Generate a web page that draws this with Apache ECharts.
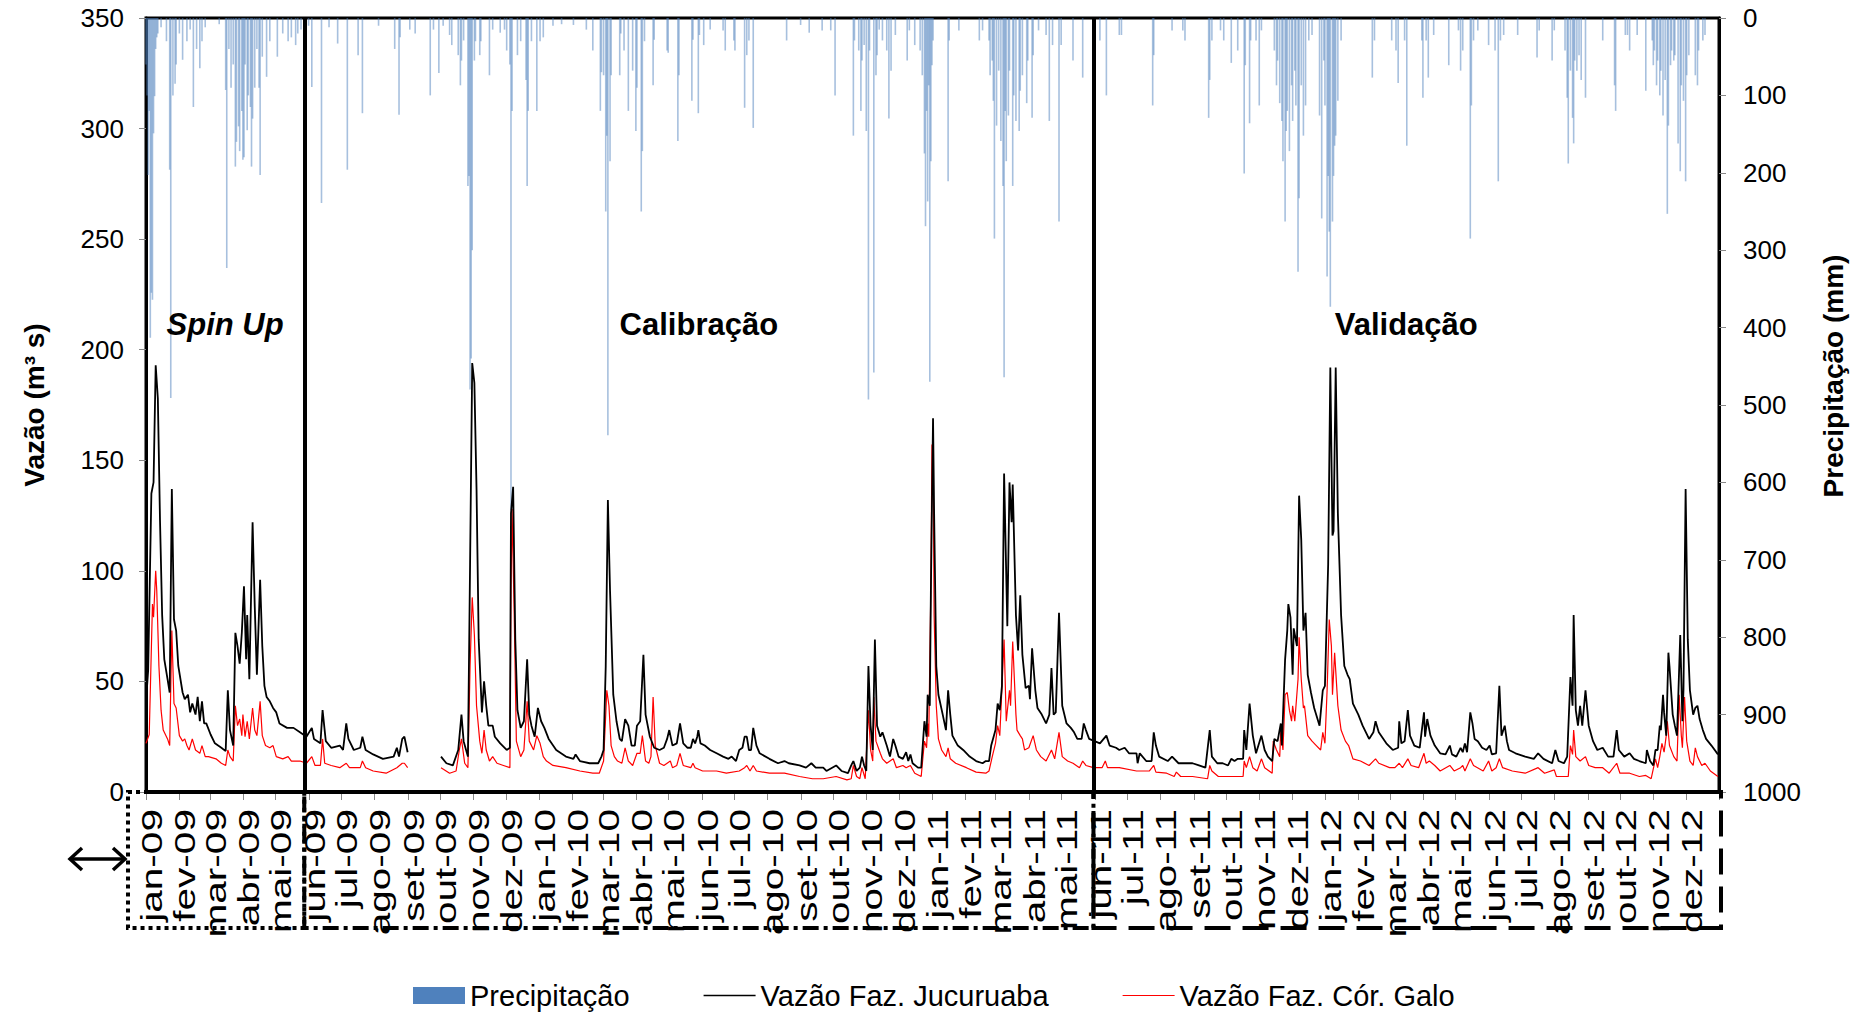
<!DOCTYPE html>
<html>
<head>
<meta charset="utf-8">
<script src="https://cdn.jsdelivr.net/npm/echarts@6/dist/echarts.min.js"></script>
<style>
  html, body { margin: 0; padding: 0; background: #ffffff; }
  #chart { width: 1866px; height: 1012px; }
</style>
</head>
<body>
<div id="chart"></div>
<script>
// Daily rainfall (mm) — rainy days only
const precipitacao = [
  ['2009-01-01',60],['2009-01-02',100],['2009-01-03',203],['2009-01-04',120],['2009-01-05',413],['2009-01-06',355],['2009-01-07',364],['2009-01-08',149],['2009-01-09',101],['2009-01-10',40],['2009-01-11',25],['2009-01-12',20],['2009-01-15',12],['2009-01-20',30],['2009-01-23',196],['2009-01-24',491],['2009-01-26',100],['2009-01-28',85],['2009-01-29',60],['2009-02-01',20],['2009-02-04',54],['2009-02-08',30],['2009-02-11',15],['2009-02-14',115],['2009-02-17',40],['2009-02-20',65],['2009-02-22',30],['2009-02-25',12],['2009-03-10',8],['2009-03-16',93],['2009-03-17',323],['2009-03-19',40],['2009-03-21',90],['2009-03-23',60],['2009-03-25',192],['2009-03-26',160],['2009-03-28',140],['2009-03-29',172],['2009-03-31',120],['2009-04-01',183],['2009-04-02',180],['2009-04-03',60],['2009-04-05',145],['2009-04-06',100],['2009-04-08',115],['2009-04-09',192],['2009-04-10',130],['2009-04-12',90],['2009-04-14',40],['2009-04-16',90],['2009-04-17',203],['2009-04-19',50],['2009-04-23',76],['2009-04-26',30],['2009-05-03',50],['2009-05-08',20],['2009-05-13',30],['2009-05-16',25],['2009-05-20',35],['2009-05-22',20],['2009-05-25',15],['2009-06-01',10],['2009-06-04',89],['2009-06-13',239],['2009-06-20',12],['2009-06-28',33],['2009-07-07',196],['2009-07-17',48],['2009-07-21',123],['2009-08-05',10],['2009-08-20',40],['2009-08-24',125],['2009-08-25',25],['2009-09-03',15],['2009-09-08',20],['2009-09-22',100],['2009-09-25',15],['2009-09-30',71],['2009-10-04',10],['2009-10-10',22],['2009-10-12',35],['2009-10-18',48],['2009-10-20',87],['2009-10-21',55],['2009-10-23',29],['2009-10-27',217],['2009-10-28',204],['2009-10-29',480],['2009-10-30',440],['2009-10-31',300],['2009-11-02',55],['2009-11-03',30],['2009-11-07',48],['2009-11-08',30],['2009-11-16',74],['2009-11-19',15],['2009-11-26',19],['2009-11-30',15],['2009-12-02',42],['2009-12-05',60],['2009-12-06',636],['2009-12-07',120],['2009-12-12',48],['2009-12-15',30],['2009-12-20',80],['2009-12-21',217],['2009-12-22',120],['2009-12-25',30],['2009-12-30',120],
  ['2010-01-02',30],['2010-01-05',25],['2010-01-14',10],['2010-01-22',8],['2010-02-02',9],['2010-02-14',15],['2010-02-20',42],['2010-02-27',120],['2010-02-28',70],['2010-03-02',74],['2010-03-04',250],['2010-03-05',152],['2010-03-06',539],['2010-03-08',185],['2010-03-09',74],['2010-03-17',74],['2010-03-18',20],['2010-03-21',42],['2010-03-25',120],['2010-03-29',68],['2010-04-01',146],['2010-04-02',90],['2010-04-06',250],['2010-04-07',172],['2010-04-09',30],['2010-04-17',87],['2010-04-18',28],['2010-04-30',42],['2010-05-01',45],['2010-05-10',159],['2010-05-11',74],['2010-05-23',107],['2010-05-24',28],['2010-05-29',123],['2010-05-30',22],['2010-06-03',35],['2010-06-09',15],['2010-06-21',16],['2010-06-23',42],['2010-07-01',29],['2010-07-02',42],['2010-07-11',116],['2010-07-13',48],['2010-07-15',29],['2010-07-19',142],['2010-08-19',29],['2010-09-01',9],['2010-09-09',19],['2010-09-21',16],['2010-09-29',16],['2010-10-03',100],['2010-10-20',152],['2010-10-21',29],['2010-10-25',42],['2010-10-27',120],['2010-10-28',55],['2010-10-30',35],['2010-11-01',146],['2010-11-03',493],['2010-11-04',42],['2010-11-08',458],['2010-11-10',74],['2010-11-11',48],['2010-11-13',15],['2010-11-16',29],['2010-11-20',42],['2010-11-22',130],['2010-11-24',68],['2010-11-28',22],['2010-12-09',55],['2010-12-11',16],['2010-12-16',35],['2010-12-21',42],['2010-12-23',74],['2010-12-25',175],['2010-12-26',269],['2010-12-27',120],['2010-12-28',237],['2010-12-29',87],['2010-12-30',470],['2010-12-31',185],
  ['2011-01-01',61],['2011-01-02',29],['2011-01-16',211],['2011-01-17',29],['2011-01-26',16],['2011-02-14',29],['2011-02-17',16],['2011-02-23',29],['2011-02-24',74],['2011-02-26',55],['2011-02-27',107],['2011-02-28',285],['2011-03-02',139],['2011-03-04',68],['2011-03-06',159],['2011-03-08',217],['2011-03-09',464],['2011-03-10',120],['2011-03-11',185],['2011-03-13',126],['2011-03-14',68],['2011-03-17',217],['2011-03-18',100],['2011-03-20',133],['2011-03-23',146],['2011-03-24',94],['2011-03-26',74],['2011-03-30',110],['2011-03-31',55],['2011-04-04',129],['2011-04-05',48],['2011-04-10',16],['2011-04-17',22],['2011-04-20',133],['2011-04-23',35],['2011-04-29',263],['2011-05-01',35],['2011-05-12',55],['2011-05-21',77],['2011-06-06',29],['2011-06-12',100],['2011-06-24',22],['2011-06-26',22],['2011-07-25',113],['2011-07-26',48],['2011-08-12',16],['2011-08-22',16],['2011-08-24',29],['2011-09-15',129],['2011-09-16',80],['2011-09-18',29],['2011-09-26',16],['2011-09-29',29],['2011-10-06',58],['2011-10-12',42],['2011-10-18',201],['2011-10-19',61],['2011-10-23',136],['2011-10-24',29],['2011-10-29',29],['2011-11-01',113],['2011-11-03',16],['2011-11-15',42],['2011-11-17',87],['2011-11-18',55],['2011-11-20',110],['2011-11-22',133],['2011-11-23',185],['2011-11-25',263],['2011-11-26',146],['2011-11-27',120],['2011-11-29',172],['2011-12-01',87],['2011-12-02',133],['2011-12-04',68],['2011-12-05',113],['2011-12-07',328],['2011-12-08',233],['2011-12-10',87],['2011-12-12',152],['2011-12-14',113],['2011-12-17',29],['2011-12-20',22],['2011-12-27',126],['2011-12-29',259],['2011-12-31',55],
  ['2012-01-01',113],['2012-01-03',334],['2012-01-04',204],['2012-01-05',276],['2012-01-06',373],['2012-01-08',263],['2012-01-09',204],['2012-01-10',165],['2012-01-11',152],['2012-01-13',107],['2012-01-16',29],['2012-02-14',77],['2012-02-16',29],['2012-03-03',29],['2012-03-07',42],['2012-03-09',84],['2012-03-15',29],['2012-03-17',165],['2012-03-31',29],['2012-04-01',103],['2012-04-04',29],['2012-04-06',77],['2012-04-11',22],['2012-04-25',61],['2012-05-04',16],['2012-05-06',68],['2012-05-08',42],['2012-05-15',285],['2012-05-16',113],['2012-05-18',29],['2012-05-22',16],['2012-06-01',35],['2012-06-07',42],['2012-06-10',211],['2012-06-12',29],['2012-06-15',22],['2012-06-28',22],['2012-07-16',51],['2012-07-18',16],['2012-07-30',55],['2012-08-01',16],['2012-08-11',42],['2012-08-13',103],['2012-08-14',188],['2012-08-16',68],['2012-08-18',129],['2012-08-19',162],['2012-08-20',55],['2012-08-22',68],['2012-08-24',48],['2012-08-26',80],['2012-08-30',103],['2012-09-15',29],['2012-09-26',87],['2012-09-27',120],['2012-10-06',22],['2012-10-08',22],['2012-10-10',42],['2012-10-17',22],['2012-10-25',94],['2012-10-31',29],['2012-11-01',61],['2012-11-02',42],['2012-11-04',87],['2012-11-05',55],['2012-11-07',100],['2012-11-08',68],['2012-11-10',126],['2012-11-12',80],['2012-11-14',253],['2012-11-15',139],['2012-11-17',61],['2012-11-18',42],['2012-11-20',55],['2012-11-21',48],['2012-11-24',162],['2012-11-26',198],['2012-11-27',87],['2012-11-29',107],['2012-12-01',211],['2012-12-02',74],['2012-12-04',48],['2012-12-10',74],['2012-12-12',87],['2012-12-13',42],['2012-12-17',29],['2012-12-19',22]
];

// Streamflow at Faz. Jucuruaba (m³/s); null marks the missing record
const vazaoJucuruaba = [
  ['2009-01-01',41],['2009-01-03',55],['2009-01-06',135],['2009-01-08',140],['2009-01-10',193],['2009-01-12',178],['2009-01-14',123],['2009-01-16',80],['2009-01-18',60],['2009-01-21',51],['2009-01-23',45],['2009-01-25',137],['2009-01-27',78],['2009-01-29',73],['2009-01-31',57],['2009-02-04',45],['2009-02-06',42],['2009-02-09',44],['2009-02-11',36],['2009-02-13',40],['2009-02-16',35],['2009-02-18',43],['2009-02-20',32],['2009-02-22',41],['2009-02-24',31],['2009-02-26',31],['2009-03-02',26],['2009-03-06',22],['2009-03-12',20],['2009-03-16',18.5],['2009-03-18',46],['2009-03-20',28],['2009-03-23',21],['2009-03-25',72],['2009-03-27',66],['2009-03-29',58],['2009-03-31',72],['2009-04-02',93],['2009-04-04',60],['2009-04-05',80],['2009-04-07',51],['2009-04-10',122],['2009-04-12',84],['2009-04-14',53],['2009-04-17',96],['2009-04-19',66],['2009-04-21',48],['2009-04-23',43],['2009-04-26',41],['2009-04-29',38],['2009-05-02',36],['2009-05-05',31],['2009-05-12',29],['2009-05-18',29],['2009-05-24',27],['2009-05-30',25],['2009-06-04',29],['2009-06-06',24],['2009-06-12',22],['2009-06-14',37],['2009-06-17',23],['2009-06-22',20],['2009-06-30',21],['2009-07-03',19],['2009-07-06',31],['2009-07-08',24],['2009-07-13',19],['2009-07-19',20],['2009-07-21',25],['2009-07-24',19],['2009-07-31',17],['2009-08-09',15],['2009-08-19',16],['2009-08-22',20],['2009-08-24',16],['2009-08-27',24],['2009-08-29',25],['2009-09-01',18],
  ['2009-09-15',null],
  ['2009-10-02',16],['2009-10-07',13],['2009-10-13',12],['2009-10-18',19],['2009-10-21',35],['2009-10-23',23],['2009-10-27',16],['2009-10-29',103],['2009-10-31',194],['2009-11-02',185],['2009-11-04',137],['2009-11-06',69],['2009-11-09',36],['2009-11-11',50],['2009-11-13',39],['2009-11-15',30],['2009-11-19',30],['2009-11-21',25],['2009-11-26',22],['2009-12-02',19],['2009-12-05',20],['2009-12-06',126],['2009-12-08',138],['2009-12-10',69],['2009-12-12',37],['2009-12-15',29],['2009-12-18',32],['2009-12-21',60],['2009-12-23',35],['2009-12-25',30],['2009-12-28',25],['2009-12-31',38],
  ['2010-01-03',32],['2010-01-06',29],['2010-01-10',24],['2010-01-17',19],['2010-01-26',16],['2010-02-02',15],['2010-02-04',17],['2010-02-08',14],['2010-02-17',13],['2010-02-25',13],['2010-02-28',16],['2010-03-02',19],['2010-03-04',57],['2010-03-06',132],['2010-03-08',91],['2010-03-11',44],['2010-03-14',32],['2010-03-17',24],['2010-03-19',23],['2010-03-22',33],['2010-03-25',30],['2010-03-28',21],['2010-03-31',21],['2010-04-02',30],['2010-04-05',32],['2010-04-08',62],['2010-04-10',35],['2010-04-14',25],['2010-04-18',20],['2010-04-23',19],['2010-04-27',20],['2010-04-30',24],['2010-05-02',28],['2010-05-05',21],['2010-05-09',22],['2010-05-11',28],['2010-05-12',31],['2010-05-15',22],['2010-05-19',20],['2010-05-22',20],['2010-05-24',24],['2010-05-26',22],['2010-05-28',25],['2010-05-29',28],['2010-05-31',22],['2010-06-04',21],['2010-06-09',19],['2010-06-15',17.5],['2010-06-21',16],['2010-06-26',15],['2010-06-29',16],['2010-07-03',14],['2010-07-06',19],['2010-07-09',20],['2010-07-11',25],['2010-07-13',25],['2010-07-15',19],['2010-07-17',19],['2010-07-19',29],['2010-07-22',21],['2010-07-25',17.5],['2010-08-03',15],['2010-08-11',13],['2010-08-17',14],['2010-08-21',13],['2010-08-31',12],['2010-09-06',11],['2010-09-11',13],['2010-09-15',11],['2010-09-22',11],['2010-09-25',9.5],['2010-10-04',12],['2010-10-09',9.5],['2010-10-15',8.5],['2010-10-18',12],['2010-10-20',14],['2010-10-23',9.5],['2010-10-26',11],['2010-10-28',16],['2010-10-30',12],['2010-11-01',9.5],['2010-11-03',57],['2010-11-05',30],['2010-11-07',19],['2010-11-09',69],['2010-11-11',30],['2010-11-14',25],['2010-11-16',27],['2010-11-20',21],['2010-11-23',16],['2010-11-26',24],['2010-11-28',21],['2010-12-01',16],['2010-12-05',15],['2010-12-08',18],['2010-12-10',14],['2010-12-12',17],['2010-12-14',13],['2010-12-19',11],['2010-12-22',11],['2010-12-25',32],['2010-12-27',25],['2010-12-28',44],['2010-12-30',39],['2010-12-31',91],
  ['2011-01-02',169],['2011-01-03',126],['2011-01-05',57],['2011-01-07',44],['2011-01-11',35],['2011-01-14',28],['2011-01-16',46],['2011-01-18',35],['2011-01-20',25.5],['2011-01-25',21],['2011-01-30',19],['2011-02-05',16],['2011-02-11',14],['2011-02-17',13],['2011-02-20',14],['2011-02-23',14],['2011-02-25',21],['2011-03-01',28],['2011-03-03',40],['2011-03-05',37],['2011-03-07',48],['2011-03-09',144],['2011-03-12',75],['2011-03-14',140],['2011-03-16',122],['2011-03-17',139],['2011-03-20',80],['2011-03-22',64],['2011-03-24',89],['2011-03-26',62],['2011-03-29',47],['2011-04-01',48],['2011-04-02',42],['2011-04-04',65],['2011-04-07',46],['2011-04-09',38],['2011-04-13',35],['2011-04-17',31],['2011-04-20',35],['2011-04-22',56],['2011-04-24',35],['2011-04-26',36],['2011-04-29',81],['2011-05-02',39],['2011-05-06',31],['2011-05-10',29],['2011-05-13',27],['2011-05-16',24],['2011-05-20',24],['2011-05-22',31],['2011-05-24',28],['2011-05-27',24],['2011-06-01',23],['2011-06-06',22],['2011-06-12',25.5],['2011-06-15',21],['2011-06-21',20],['2011-06-24',19],['2011-06-29',20],['2011-07-03',17.5],['2011-07-10',17.5],['2011-07-11',13],['2011-07-13',17.5],['2011-07-19',14],['2011-07-24',14],['2011-07-26',27],['2011-07-28',21],['2011-07-31',16],['2011-08-08',14],['2011-08-12',16],['2011-08-18',13],['2011-08-24',13],['2011-08-31',13],['2011-09-06',12],['2011-09-12',11],['2011-09-16',28],['2011-09-18',16],['2011-09-23',13],['2011-09-28',13],['2011-10-03',12],['2011-10-06',15],['2011-10-09',14],['2011-10-12',15],['2011-10-17',15],['2011-10-18',28],['2011-10-20',19],['2011-10-23',40],['2011-10-26',25.5],['2011-10-29',17.5],['2011-11-03',25.5],['2011-11-06',19],['2011-11-09',16],['2011-11-13',14],['2011-11-15',24],['2011-11-18',23],['2011-11-21',31],['2011-11-22',21],['2011-11-25',60],['2011-11-27',73],['2011-11-28',85],['2011-11-30',79],['2011-12-02',53],['2011-12-03',74],['2011-12-06',66],['2011-12-08',134],['2011-12-10',114],['2011-12-12',73],['2011-12-14',81],['2011-12-16',53],['2011-12-19',45],['2011-12-22',38],['2011-12-27',30],['2011-12-30',46],
  ['2012-01-01',48],['2012-01-04',103],['2012-01-06',192],['2012-01-08',116],['2012-01-09',118],['2012-01-11',192],['2012-01-13',126],['2012-01-16',80],['2012-01-19',57],['2012-01-22',53],['2012-01-24',51],['2012-01-27',40],['2012-02-01',35],['2012-02-05',30],['2012-02-11',24],['2012-02-15',27],['2012-02-17',32],['2012-02-20',27],['2012-02-27',22],['2012-03-04',19],['2012-03-09',20],['2012-03-10',32],['2012-03-12',22],['2012-03-15',23],['2012-03-18',37],['2012-03-20',25.5],['2012-03-24',21],['2012-03-29',20],['2012-04-02',36],['2012-04-03',25],['2012-04-05',33],['2012-04-08',25.5],['2012-04-12',21],['2012-04-17',17.5],['2012-04-22',17],['2012-04-26',21],['2012-04-28',17],['2012-05-02',16],['2012-05-06',20],['2012-05-08',18],['2012-05-10',22],['2012-05-12',18],['2012-05-15',36],['2012-05-17',31],['2012-05-19',24],['2012-05-22',23],['2012-05-26',20],['2012-05-30',19],['2012-06-02',21],['2012-06-04',17],['2012-06-08',17.5],['2012-06-11',48],['2012-06-13',25.5],['2012-06-16',30],['2012-06-18',23],['2012-06-20',19],['2012-06-26',17.5],['2012-07-05',16],['2012-07-13',15],['2012-07-17',17.5],['2012-07-22',15],['2012-07-30',13],['2012-08-02',19],['2012-08-05',14],['2012-08-10',13],['2012-08-13',16],['2012-08-16',52],['2012-08-18',39],['2012-08-19',80],['2012-08-21',37],['2012-08-23',30],['2012-08-25',39],['2012-08-27',30],['2012-08-30',46],['2012-09-02',30],['2012-09-06',23],['2012-09-10',19],['2012-09-15',20],['2012-09-20',16],['2012-09-25',16],['2012-09-28',28],['2012-09-30',19],['2012-10-05',16],['2012-10-10',17.5],['2012-10-14',15],['2012-10-19',14],['2012-10-25',13],['2012-10-26',19],['2012-10-29',14],['2012-11-01',12],['2012-11-03',19],['2012-11-05',19],['2012-11-07',30],['2012-11-08',28],['2012-11-10',44],['2012-11-11',36],['2012-11-13',25.5],['2012-11-15',63],['2012-11-16',57],['2012-11-19',35],['2012-11-21',30],['2012-11-23',25.5],['2012-11-26',71],['2012-11-28',32],['2012-11-29',46],['2012-12-01',137],['2012-12-03',69],['2012-12-05',46],['2012-12-08',35],['2012-12-10',38],['2012-12-12',39],['2012-12-14',33],['2012-12-17',28],['2012-12-20',24],['2012-12-25',21],['2012-12-31',17]
];

// Streamflow at Faz. Cór. Galo (m³/s); null marks the missing record
const vazaoCorGalo = [
  ['2009-01-01',22],['2009-01-04',26],['2009-01-07',85],['2009-01-08',79],['2009-01-10',100],['2009-01-11',91],['2009-01-13',57],['2009-01-15',37],['2009-01-17',28],['2009-01-21',24],['2009-01-23',21],['2009-01-25',73],['2009-01-27',40],['2009-01-29',38],['2009-02-01',25.5],['2009-02-04',23],['2009-02-06',24],['2009-02-08',21],['2009-02-10',19],['2009-02-13',24],['2009-02-16',19],['2009-02-20',17.5],['2009-02-22',21],['2009-02-25',16],['2009-02-28',16],['2009-03-07',15],['2009-03-12',13],['2009-03-16',12],['2009-03-18',19],['2009-03-20',16],['2009-03-23',14],['2009-03-25',39],['2009-03-27',30],['2009-03-29',33],['2009-03-31',25.5],['2009-04-01',35],['2009-04-03',25],['2009-04-05',32],['2009-04-07',24],['2009-04-10',38],['2009-04-12',28],['2009-04-14',25.5],['2009-04-17',41],['2009-04-19',25.5],['2009-04-22',21],['2009-04-26',20],['2009-04-29',21],['2009-05-02',16],['2009-05-08',15],['2009-05-13',16],['2009-05-16',14],['2009-05-24',14],['2009-05-30',13],['2009-06-04',16],['2009-06-07',12],['2009-06-12',12],['2009-06-14',24],['2009-06-16',13],['2009-06-22',12],['2009-06-30',11],['2009-07-06',13],['2009-07-09',11],['2009-07-19',11],['2009-07-21',14],['2009-07-24',11],['2009-07-31',9.5],['2009-08-12',8.5],['2009-08-22',11],['2009-08-27',13],['2009-08-29',13],['2009-09-01',11],
  ['2009-09-15',null],
  ['2009-10-02',11],['2009-10-10',8.5],['2009-10-16',9.5],['2009-10-19',19],['2009-10-21',24],['2009-10-24',13],['2009-10-27',11],['2009-10-29',57],['2009-10-31',88],['2009-11-02',71],['2009-11-04',39],['2009-11-07',23],['2009-11-09',17.5],['2009-11-11',28],['2009-11-13',19],['2009-11-16',14],['2009-11-19',16],['2009-11-23',13],['2009-11-29',12],['2009-12-05',11],['2009-12-06',91],['2009-12-07',128],['2009-12-09',80],['2009-12-11',23],['2009-12-15',16],['2009-12-18',19],['2009-12-21',41],['2009-12-23',23],['2009-12-27',19],['2009-12-30',25.5],
  ['2010-01-02',22],['2010-01-05',16],['2010-01-08',14],['2010-01-14',12],['2010-01-26',11],['2010-02-08',9.5],['2010-02-20',8.5],['2010-02-26',8.5],['2010-03-02',14],['2010-03-04',35],['2010-03-05',46],['2010-03-07',39],['2010-03-09',21],['2010-03-12',16],['2010-03-15',14],['2010-03-19',13],['2010-03-22',20],['2010-03-25',14],['2010-03-29',12],['2010-04-02',17.5],['2010-04-05',17.5],['2010-04-07',25.5],['2010-04-10',14],['2010-04-13',13],['2010-04-15',16],['2010-04-17',43],['2010-04-19',21],['2010-04-23',13],['2010-04-27',12],['2010-05-03',14],['2010-05-05',11],['2010-05-09',12],['2010-05-12',17.5],['2010-05-15',12],['2010-05-22',11],['2010-05-24',13],['2010-05-26',11],['2010-06-02',9.5],['2010-06-15',9.5],['2010-06-24',8.5],['2010-07-06',9.5],['2010-07-11',11],['2010-07-13',12],['2010-07-16',9.5],['2010-07-19',12],['2010-07-22',9.5],['2010-08-03',8.5],['2010-08-17',8.5],['2010-08-31',7],['2010-09-12',6],['2010-09-22',6],['2010-10-04',7],['2010-10-14',5.5],['2010-10-18',6],['2010-10-20',12],['2010-10-23',7],['2010-10-26',6],['2010-10-28',11],['2010-10-31',6],['2010-11-03',37],['2010-11-05',19],['2010-11-07',14],['2010-11-08',43],['2010-11-10',23],['2010-11-14',17.5],['2010-11-16',15],['2010-11-20',13],['2010-11-26',15],['2010-11-29',11],['2010-12-05',12],['2010-12-08',11],['2010-12-12',12],['2010-12-16',8.5],['2010-12-22',7],['2010-12-25',23],['2010-12-27',20],['2010-12-28',31],['2010-12-29',25],['2010-12-31',93],
  ['2011-01-01',157],['2011-01-02',157],['2011-01-03',80],['2011-01-05',39],['2011-01-07',24],['2011-01-10',19],['2011-01-14',16],['2011-01-16',20],['2011-01-18',15],['2011-01-23',13],['2011-02-02',11],['2011-02-11',9],['2011-02-20',8.5],['2011-02-23',9.5],['2011-02-26',16],['2011-03-01',22],['2011-03-03',30],['2011-03-05',25.5],['2011-03-09',69],['2011-03-11',32],['2011-03-14',46],['2011-03-15',39],['2011-03-17',68],['2011-03-20',35],['2011-03-21',28],['2011-03-24',25.5],['2011-03-26',24],['2011-03-28',19],['2011-04-01',20],['2011-04-05',25.5],['2011-04-08',19],['2011-04-12',16],['2011-04-17',14],['2011-04-22',19],['2011-04-25',15],['2011-04-29',27],['2011-05-02',16],['2011-05-07',14],['2011-05-12',13],['2011-05-18',11],['2011-05-21',14],['2011-05-24',12],['2011-05-31',11],['2011-06-08',11],['2011-06-11',14],['2011-06-13',11],['2011-06-24',11],['2011-07-10',9.5],['2011-07-22',9.5],['2011-07-26',12],['2011-07-28',9],['2011-08-07',8.5],['2011-08-14',7],['2011-08-16',9],['2011-08-20',7],['2011-08-31',7],['2011-09-14',6],['2011-09-16',12],['2011-09-18',9.5],['2011-09-24',7],['2011-10-09',7],['2011-10-17',7],['2011-10-18',14],['2011-10-20',11],['2011-10-23',16],['2011-10-26',11],['2011-10-30',9.5],['2011-11-03',15],['2011-11-06',11],['2011-11-13',8.5],['2011-11-14',23],['2011-11-17',19],['2011-11-20',16],['2011-11-21',28],['2011-11-23',19],['2011-11-25',44],['2011-11-27',45],['2011-11-29',37],['2011-12-01',32],['2011-12-02',39],['2011-12-04',32],['2011-12-07',51],['2011-12-08',70],['2011-12-10',51],['2011-12-12',38],['2011-12-13',39],['2011-12-16',25.5],['2011-12-20',23],['2011-12-24',21],['2011-12-28',19],['2011-12-30',27],
  ['2012-01-01',22],['2012-01-03',46],['2012-01-05',78],['2012-01-07',66],['2012-01-08',44],['2012-01-10',63],['2012-01-11',55],['2012-01-13',39],['2012-01-16',28],['2012-01-20',23],['2012-01-23',21],['2012-01-27',15],['2012-02-03',14],['2012-02-11',12],['2012-02-17',15],['2012-02-20',13],['2012-03-01',11],['2012-03-06',11],['2012-03-10',13],['2012-03-13',11],['2012-03-18',15],['2012-03-21',12],['2012-03-28',11],['2012-04-02',17.5],['2012-04-04',13],['2012-04-07',14],['2012-04-12',12],['2012-04-17',9.5],['2012-04-26',12],['2012-04-30',9.5],['2012-05-06',11],['2012-05-08',12],['2012-05-10',9.5],['2012-05-15',15],['2012-05-18',12],['2012-05-27',9.5],['2012-06-01',14],['2012-06-04',9.5],['2012-06-08',11],['2012-06-11',15],['2012-06-14',11],['2012-06-23',9.5],['2012-07-05',8.5],['2012-07-17',11],['2012-07-23',8.5],['2012-08-01',10],['2012-08-03',7],['2012-08-14',7],['2012-08-16',21],['2012-08-18',17],['2012-08-19',28],['2012-08-21',16],['2012-08-25',14],['2012-08-30',16],['2012-09-02',12],['2012-09-08',11],['2012-09-15',11],['2012-09-21',8.5],['2012-09-28',13],['2012-10-01',8.5],['2012-10-10',8.5],['2012-10-19',7],['2012-10-25',7.5],['2012-10-30',6],['2012-11-03',15],['2012-11-05',11],['2012-11-07',16],['2012-11-09',22],['2012-11-11',18],['2012-11-13',25.5],['2012-11-14',32],['2012-11-16',21],['2012-11-20',16],['2012-11-23',14],['2012-11-25',44],['2012-11-27',25.5],['2012-11-28',20],['2012-11-30',43],['2012-12-02',23],['2012-12-05',14],['2012-12-08',12],['2012-12-10',20],['2012-12-12',16],['2012-12-16',12],['2012-12-19',13],['2012-12-24',9.5],['2012-12-31',7]
];

// Month tick labels (pt-BR) and the years covered
const nomesMeses = ['jan','fev','mar','abr','mai','jun','jul','ago','set','out','nov','dez'];
const anos = [2009, 2010, 2011, 2012];

// Modelling periods
const periodos = [
  { nome: 'Spin Up',    inicio: '2009-01-01', fim: '2009-05-28', italico: true,  traco: [4, 4] },
  { nome: 'Calibração', inicio: '2009-05-28', fim: '2011-05-31', italico: false, traco: [16, 5, 4, 5] },
  { nome: 'Validação',  inicio: '2011-05-31', fim: '2013-01-01', italico: false, traco: [26, 12] }
];

const FONT = 'Liberation Sans, Arial, sans-serif';
const ts = s => { const p = s.split('-').map(Number); return new Date(p[0], p[1] - 1, p[2]).getTime(); };

const inicioMeses = [];
anos.forEach(a => { for (let m = 0; m < 12; m++) inicioMeses.push(new Date(a, m, 1).getTime()); });
const ticksMeses = inicioMeses.concat([new Date(2013, 0, 1).getTime()]);
const rotuloMes = v => { const d = new Date(v); return nomesMeses[d.getMonth()] + '-' + String(d.getFullYear()).slice(2); };

const chart = echarts.init(document.getElementById('chart'), null, { renderer: 'svg' });

chart.setOption({
  animation: false,
  backgroundColor: '#ffffff',
  grid: { left: 146, right: 147, top: 18, bottom: 220, show: true, borderColor: '#000', borderWidth: 3, backgroundColor: 'transparent' },
  legend: {
    left: 408, top: 976, itemWidth: 52, itemHeight: 17, itemGap: 74,
    textStyle: { fontFamily: FONT, fontSize: 29, color: '#000' },
    data: [
      { name: 'Precipitação', icon: 'rect', itemStyle: { color: '#4f81bd', opacity: 1 } },
      { name: 'Vazão Faz. Jucuruaba', icon: 'path://M0,0H60V1.6H0Z' },
      { name: 'Vazão Faz. Cór. Galo', icon: 'path://M0,0H60V1.2H0Z' }
    ]
  },
  xAxis: {
    type: 'value',
    min: ts('2009-01-01'), max: ts('2013-01-01'),
    axisLine: { show: true, onZero: false, lineStyle: { color: '#000', width: 4 } },
    // month ticks and names are drawn below from the same month list
    axisTick: { show: false },
    splitLine: { show: false },
    axisLabel: { show: false }
  },
  yAxis: [
    {
      type: 'value', min: 0, max: 350, interval: 50, position: 'left',
      name: 'Vazão (m³ s)', nameLocation: 'middle', nameGap: 98, nameRotate: 90,
      nameTextStyle: { fontFamily: FONT, fontSize: 28, fontWeight: 'bold', color: '#000' },
      axisLine: { show: true, lineStyle: { color: '#000', width: 3 } },
      axisTick: { show: true, inside: false, length: 7, lineStyle: { color: '#888' } },
      splitLine: { show: false },
      axisLabel: { fontFamily: FONT, fontSize: 26, color: '#000', margin: 22 }
    },
    {
      type: 'value', min: 0, max: 1000, interval: 100, position: 'right', inverse: true,
      name: 'Precipitação (mm)', nameLocation: 'middle', nameGap: 100, nameRotate: 90,
      nameTextStyle: { fontFamily: FONT, fontSize: 28, fontWeight: 'bold', color: '#000', padding: [0, 0, 0, 58] },
      axisLine: { show: true, lineStyle: { color: '#000', width: 3 } },
      axisTick: { show: true, inside: false, length: 7, lineStyle: { color: '#888' } },
      splitLine: { show: false },
      axisLabel: { fontFamily: FONT, fontSize: 26, color: '#000', margin: 24, formatter: v => String(v) }
    }
  ],
  series: [
    {
      name: 'Precipitação', type: 'bar', yAxisIndex: 1, barWidth: 1.6,
      itemStyle: { color: 'rgba(79,129,189,0.5)' },
      data: precipitacao.map(d => [ts(d[0]), d[1]]),
      z: 1,
      markLine: {
        silent: true, symbol: 'none', label: { show: false },
        lineStyle: { color: '#000', width: 4, type: 'solid' },
        data: periodos.slice(1).map(p => ({ xAxis: ts(p.inicio) }))
      }
    },
    {
      name: 'Vazão Faz. Jucuruaba', type: 'line', yAxisIndex: 0, showSymbol: false, symbol: 'none',
      connectNulls: false, lineStyle: { color: '#000', width: 1.8 }, itemStyle: { color: '#000' },
      data: vazaoJucuruaba.map(d => [ts(d[0]), d[1]]), z: 3
    },
    {
      name: 'Vazão Faz. Cór. Galo', type: 'line', yAxisIndex: 0, showSymbol: false, symbol: 'none',
      connectNulls: false, lineStyle: { color: '#ff0000', width: 1.2 }, itemStyle: { color: '#ff0000' },
      data: vazaoCorGalo.map(d => [ts(d[0]), d[1]]), z: 2
    }
  ]
});

// Month ticks and labels, period titles, dashed label boxes under the axis and the arrow on the left
const pxT = t => chart.convertToPixel({ xAxisIndex: 0 }, t);
const px = s => pxT(ts(s));
const eixoY = chart.convertToPixel({ yAxisIndex: 0 }, 0);
const topoY = chart.convertToPixel({ yAxisIndex: 0 }, 350);
const baseCaixa = eixoY + 136;
const graficos = [];

ticksMeses.forEach(t => {
  const x = Math.round(pxT(t)) + 0.5;
  graficos.push({
    type: 'line', z: 5, silent: true,
    shape: { x1: x, y1: eixoY + 2, x2: x, y2: eixoY + 8 },
    style: { stroke: '#888', lineWidth: 1 }
  });
});

inicioMeses.forEach(t => {
  graficos.push({
    type: 'text', x: Math.round(pxT(t)) + 6, y: Math.round(eixoY) + 17, rotation: Math.PI / 2, scaleX: 1.4, z: 8,
    style: {
      text: rotuloMes(t), fill: '#000', font: '29px ' + FONT,
      align: 'right', verticalAlign: 'middle'
    }
  });
});

periodos.forEach((p, i) => {
  let x0 = px(p.inicio), x1 = px(p.fim);
  const meio = (x0 + x1) / 2;
  graficos.push({
    type: 'text', x: meio, y: topoY + 306, z: 10,
    style: {
      text: p.nome, fill: '#000', font: (p.italico ? 'italic ' : '') + 'bold 31px ' + FONT,
      align: 'center', verticalAlign: 'middle'
    }
  });
  if (i === 0) x0 -= 18;
  if (i === periodos.length - 1) x1 += 2;
  graficos.push({
    type: 'rect', z: 10,
    shape: { x: x0, y: eixoY, width: x1 - x0, height: baseCaixa - eixoY },
    style: { fill: 'none', stroke: '#000', lineWidth: 4, lineDash: p.traco }
  });
});

const ay = eixoY + 67;
graficos.push({
  type: 'group', z: 10,
  children: [
    { type: 'line', shape: { x1: 70, y1: ay, x2: 125, y2: ay }, style: { stroke: '#000', lineWidth: 3.5 } },
    { type: 'polyline', shape: { points: [[82, ay - 11], [70, ay], [82, ay + 11]] }, style: { stroke: '#000', lineWidth: 3.5, fill: 'none' } },
    { type: 'polyline', shape: { points: [[113, ay - 11], [125, ay], [113, ay + 11]] }, style: { stroke: '#000', lineWidth: 3.5, fill: 'none' } }
  ]
});
chart.setOption({ graphic: graficos });
</script>
</body>
</html>
